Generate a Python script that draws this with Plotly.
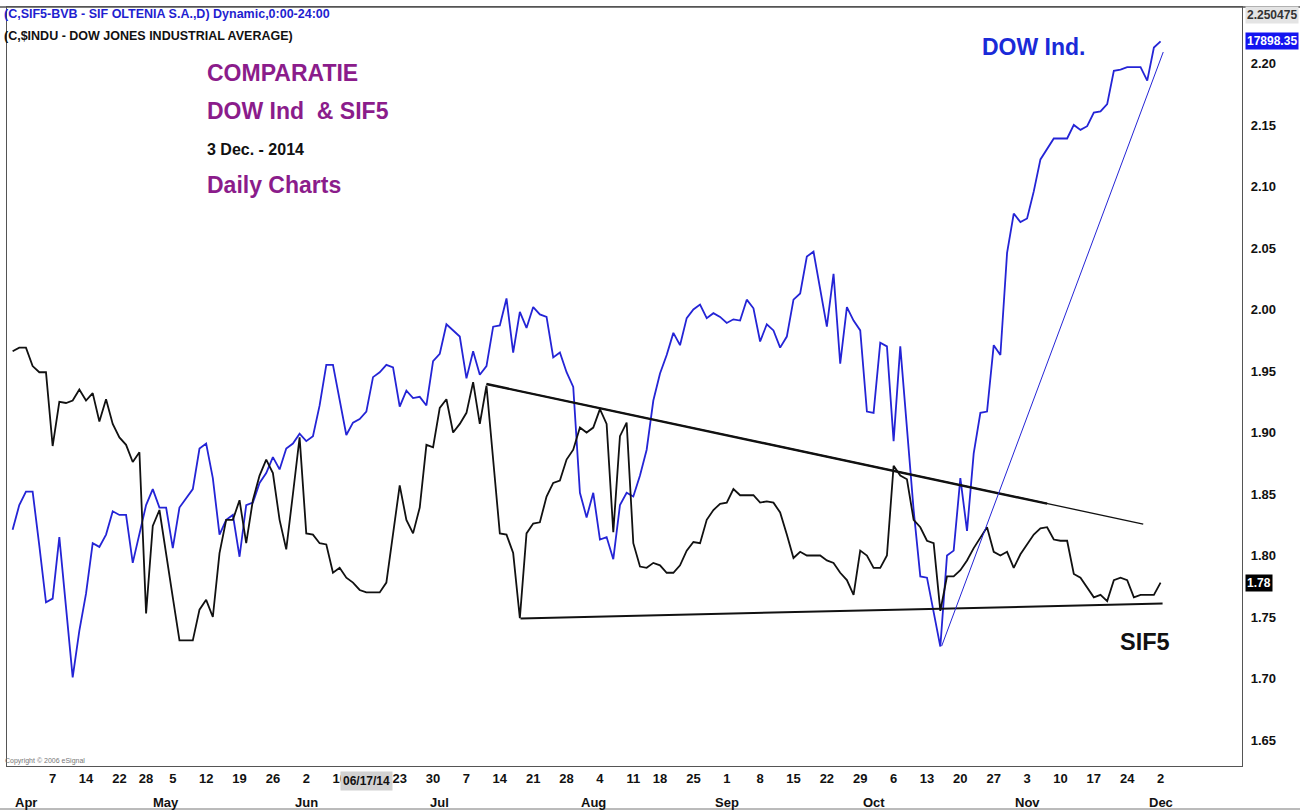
import pandas as pd
import plotly.graph_objects as go

# ---------------- data ----------------
holidays = ["2014-04-21", "2014-05-01", "2014-06-09", "2014-08-15", "2014-12-01"]
dates = pd.bdate_range("2014-03-28", "2014-12-02", freq="C", holidays=holidays)
dates = [d.strftime("%Y-%m-%d") for d in dates]

sif5 = [
    1.966, 1.969, 1.969, 1.954, 1.949, 1.949, 1.889, 1.925, 1.924, 1.926,
    1.935, 1.926, 1.932, 1.909, 1.927, 1.907, 1.896, 1.890, 1.876, 1.884,
    1.753, 1.824, 1.837, 1.803, 1.766, 1.731, 1.731, 1.731, 1.756, 1.764,
    1.750, 1.802, 1.829, 1.829, 1.845, 1.810, 1.845, 1.865, 1.878, 1.867,
    1.829, 1.805, 1.850, 1.896, 1.818, 1.817, 1.810, 1.809, 1.786, 1.790,
    1.782, 1.778, 1.772, 1.770, 1.770, 1.770, 1.778, 1.818, 1.857, 1.829,
    1.818, 1.839, 1.890, 1.888, 1.920, 1.927, 1.900, 1.907, 1.916, 1.941,
    1.907, 1.938, 1.878, 1.818, 1.817, 1.802, 1.749, 1.818, 1.826, 1.827,
    1.848, 1.859, 1.861, 1.878, 1.886, 1.904, 1.900, 1.904, 1.919, 1.907,
    1.819, 1.897, 1.908, 1.810, 1.791, 1.790, 1.794, 1.792, 1.786, 1.786,
    1.792, 1.804, 1.811, 1.810, 1.829, 1.837, 1.842, 1.843, 1.854, 1.849,
    1.849, 1.849, 1.843, 1.844, 1.843, 1.835, 1.817, 1.798, 1.803, 1.800,
    1.800, 1.800, 1.796, 1.794, 1.786, 1.780, 1.768, 1.804, 1.800, 1.790,
    1.790, 1.800, 1.873, 1.865, 1.862, 1.829, 1.823, 1.812, 1.810, 1.755,
    1.783, 1.783, 1.788, 1.796, 1.806, 1.815, 1.823, 1.803, 1.800, 1.803,
    1.790, 1.801, 1.809, 1.817, 1.822, 1.823, 1.813, 1.812, 1.812, 1.785,
    1.782, 1.774, 1.766, 1.768, 1.763, 1.780, 1.782, 1.780, 1.766, 1.768,
    1.768, 1.768, 1.778,
]

dow = [
    1.821, 1.841, 1.852, 1.852, 1.808, 1.762, 1.765, 1.815, 1.758, 1.701,
    1.739, 1.769, 1.810, 1.807, 1.817, 1.836, 1.833, 1.833, 1.794, 1.818,
    1.841, 1.854, 1.839, 1.839, 1.806, 1.839, 1.847, 1.854, 1.887, 1.891,
    1.863, 1.817, 1.829, 1.833, 1.799, 1.841, 1.843, 1.859, 1.867, 1.880,
    1.870, 1.887, 1.891, 1.899, 1.893, 1.897, 1.922, 1.955, 1.955, 1.926,
    1.898, 1.908, 1.911, 1.917, 1.945, 1.949, 1.955, 1.953, 1.921, 1.934,
    1.928, 1.929, 1.922, 1.958, 1.964, 1.988, 1.983, 1.978, 1.944, 1.966,
    1.947, 1.954, 1.986, 1.987, 2.009, 1.965, 1.998, 1.985, 2.002, 1.996,
    1.994, 1.961, 1.965, 1.949, 1.937, 1.851, 1.831, 1.851, 1.813, 1.815,
    1.797, 1.841, 1.851, 1.848, 1.865, 1.886, 1.926, 1.948, 1.963, 1.981,
    1.971, 1.993, 2.000, 2.004, 1.993, 1.997, 1.994, 1.989, 1.992, 1.991,
    2.008, 2.001, 1.974, 1.988, 1.983, 1.969, 1.978, 2.008, 2.013, 2.043,
    2.047, 2.016, 1.986, 2.029, 1.956, 2.002, 1.991, 1.983, 1.917, 1.916,
    1.973, 1.970, 1.893, 1.970, 1.902, 1.837, 1.783, 1.782, 1.754, 1.726,
    1.800, 1.804, 1.863, 1.820, 1.883, 1.916, 1.917, 1.971, 1.963, 2.046,
    2.078, 2.071, 2.074, 2.096, 2.122, 2.130, 2.139, 2.139, 2.139, 2.150,
    2.146, 2.149, 2.160, 2.161, 2.167, 2.194, 2.195, 2.197, 2.197, 2.197,
    2.186, 2.213, 2.218,
]

# trend lines (start / end)
upper_x = ["2014-07-10", "2014-11-26 09:36"]
upper_y = [1.9394, 1.8256]
upper_thick_x = ["2014-07-10", "2014-11-06"]
upper_thick_y = [1.9394, 1.8422]
lower_x = ["2014-07-17 02:24", "2014-12-02 07:12"]
lower_y = [1.7488, 1.7610]
dow_trend_x = ["2014-10-15 04:48", "2014-12-02 09:36"]
dow_trend_y = [1.7264, 2.2093]

tick_dates = ["2014-04-07", "2014-04-14", "2014-04-22", "2014-04-28", "2014-05-05",
              "2014-05-12", "2014-05-19", "2014-05-26", "2014-06-02", "2014-06-10",
              "2014-06-16", "2014-06-23", "2014-06-30", "2014-07-07", "2014-07-14",
              "2014-07-21", "2014-07-28", "2014-08-04", "2014-08-11", "2014-08-18",
              "2014-08-25", "2014-09-01", "2014-09-08", "2014-09-15", "2014-09-22",
              "2014-09-29", "2014-10-06", "2014-10-13", "2014-10-20", "2014-10-27",
              "2014-11-03", "2014-11-10", "2014-11-17", "2014-11-24", "2014-12-02"]
tick_text = ["7", "14", "22", "28", "5", "12", "19", "26", "2", "10",
             "", "23", "30", "7", "14", "21", "28", "4", "11", "18",
             "25", "1", "8", "15", "22", "29", "6", "13", "20", "27",
             "3", "10", "17", "24", "2"]

month_dates = ["2014-04-01", "2014-05-02", "2014-06-02", "2014-07-01", "2014-08-01",
               "2014-09-01", "2014-10-01", "2014-11-03", "2014-12-02"]
month_names = ["Apr", "May", "Jun", "Jul", "Aug", "Sep", "Oct", "Nov", "Dec"]

y_ticks = [1.65, 1.70, 1.75, 1.80, 1.85, 1.90, 1.95, 2.00, 2.05, 2.10, 2.15, 2.20]

# ---------------- styling ----------------
FONT = "Liberation Sans Narrow, Arial Narrow, Liberation Sans, Arial, sans-serif"
BLUE = "#2424d6"
BLACK = "#111111"
PURPLE = "#8b1c8b"

fig = go.Figure()
fig.add_trace(go.Scatter(x=dates, y=dow, mode="lines", line=dict(color=BLUE, width=1.8),
                         name="DOW Ind."))
fig.add_trace(go.Scatter(x=dates, y=sif5, mode="lines", line=dict(color=BLACK, width=1.8),
                         name="SIF5"))
fig.add_trace(go.Scatter(x=upper_x, y=upper_y, mode="lines", line=dict(color=BLACK, width=1.3)))
fig.add_trace(go.Scatter(x=upper_thick_x, y=upper_thick_y, mode="lines",
                         line=dict(color=BLACK, width=2.4)))
fig.add_trace(go.Scatter(x=lower_x, y=lower_y, mode="lines", line=dict(color=BLACK, width=2)))
fig.add_trace(go.Scatter(x=dow_trend_x, y=dow_trend_y, mode="lines",
                         line=dict(color=BLUE, width=1)))

ann = []


def txt(text, x, y, size, color, xref="paper", yref="paper", xanchor="left",
        yanchor="middle", bg=None, weight="bold", pad=1):
    d = dict(text=text, x=x, y=y, xref=xref, yref=yref, xanchor=xanchor, yanchor=yanchor,
             showarrow=False, font=dict(family=FONT, size=size, color=color, weight=weight),
             borderpad=pad)
    if bg:
        d["bgcolor"] = bg
    ann.append(d)


W = 1235.0
H = 759.0


def px(xp):
    return (xp - 7) / W


def py(yp):
    return 1 - (yp - 7) / H


txt("(C,SIF5-BVB - SIF OLTENIA S.A.,D) Dynamic,0:00-24:00", px(2), py(14), 12.5, "#1f1fd0")
txt("(C,$INDU - DOW JONES INDUSTRIAL AVERAGE)", px(2), py(36), 12.5, BLACK)
txt("COMPARATIE", px(205), py(73), 23, PURPLE)
txt("DOW Ind  &amp; SIF5", px(205), py(111), 23, PURPLE)
txt("3 Dec. - 2014", px(205), py(150), 16, BLACK)
txt("Daily Charts", px(205), py(185), 23, PURPLE)
txt("DOW Ind.", px(980), py(47), 23, "#1a2ad8")
txt("SIF5", px(1118), py(642), 23.5, BLACK)
txt("Copyright © 2006 eSignal", px(3), py(761), 7, "#777777", weight="normal")

# right-hand value boxes
txt("2.250475", px(1245), py(15), 12, "#333333", bg="#e4e4e4")
txt("17898.35", px(1245), dow[-1], 12, "white", yref="y", bg="#1414f0")
txt(f"{sif5[-1]:.2f}", px(1245), sif5[-1], 12, "white", yref="y", bg="#000000")

# month labels
for d, m in zip(month_dates, month_names):
    txt(m, d, py(802), 13, BLACK, xref="x", xanchor="center")

# crosshair date box on the time axis
txt("06/17/14", "2014-06-16", py(781), 12, BLACK, xref="x", xanchor="center",
    bg="#d2d2d2", pad=2)

shapes = [
    dict(type="line", xref="paper", yref="paper", x0=px(0), x1=px(1300), y0=1, y1=1,
         line=dict(color="#555555", width=1.5)),
    dict(type="line", xref="paper", yref="paper", x0=px(0), x1=px(1300), y0=py(809),
         y1=py(809), line=dict(color="#777777", width=1)),
]

fig.update_layout(
    width=1314, height=811,
    margin=dict(l=7, r=72, t=7, b=45, autoexpand=False),
    paper_bgcolor="white", plot_bgcolor="white",
    showlegend=False,
    annotations=ann,
    shapes=shapes,
    xaxis=dict(
        type="date",
        range=["2014-03-27 03:50", "2014-12-18 04:48"],
        rangebreaks=[dict(bounds=["sat", "mon"]), dict(values=holidays)],
        tickmode="array", tickvals=tick_dates, ticktext=tick_text,
        tickfont=dict(family=FONT, size=13, color=BLACK, weight="bold"),
        showgrid=False, zeroline=False, showline=True, linecolor="#555555", linewidth=1.2,
        mirror=True, ticks="", automargin=False,
    ),
    yaxis=dict(
        side="right",
        range=[1.6289, 2.2459],
        tickmode="array", tickvals=y_ticks, ticktext=[f"{v:.2f}" for v in y_ticks],
        tickfont=dict(family=FONT, size=13, color=BLACK, weight="bold"),
        showgrid=False, zeroline=False, showline=True, linecolor="#555555", linewidth=1.2,
        mirror=True, ticks="", ticklabelstandoff=5, automargin=False,
    ),
)

fig.write_html(
    "out.html",
    config={"displayModeBar": False},
    post_script="document.body.style.margin='0px';document.body.style.overflow='hidden';",
)
